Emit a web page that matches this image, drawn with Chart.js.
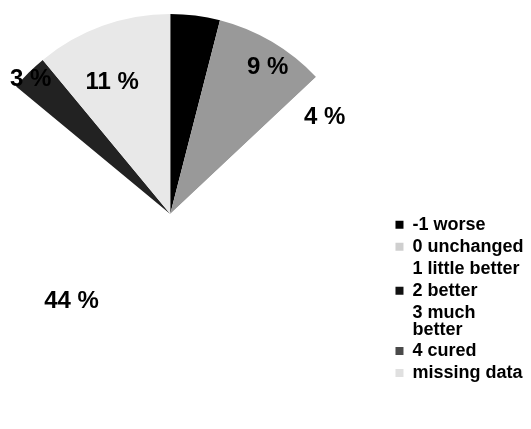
<!DOCTYPE html>
<html><head><meta charset="utf-8">
<script src="https://cdn.jsdelivr.net/npm/chart.js@4.4.0/dist/chart.umd.min.js"></script>
<style>
html,body{margin:0;padding:0;background:#fff;overflow:hidden;width:531px;height:429px;}
#c{position:absolute;left:-51px;top:0;}
</style></head><body>
<canvas id="c" width="588" height="429"></canvas>
<script>
// ---- data ----
const categories = ['-1 worse', '0 unchanged', '1 little better', '2 better', ['3 much', 'better'], '4 cured', 'missing data'];
const percentages = [4, 9, 4, 25, 44, 3, 11];

// ---- styles ----
const sliceColors    = ['#000000', '#999999', '#ffffff', '#ffffff', '#ffffff', '#222222', '#e8e8e8'];
const legendSwatches = ['#000000', '#cfcfcf', '#ffffff', '#111111', '#ffffff', '#4a4a4a', '#e0e0e0'];
const labelPlacement = [null, {r: 0.88, da: 3}, {r: 0.91, da: 4}, null, {r: 0.66, da: -2}, {r: 0.97, da: -1}, {r: 0.72, da: -4}];
const labelColors = [null, '#000', '#000', null, '#000', '#000', '#000'];

const total = percentages.reduce((a, b) => a + b, 0);

const sliceLabels = {
  id: 'sliceLabels',
  afterDatasetsDraw(chart) {
    const ctx = chart.ctx;
    const meta = chart.getDatasetMeta(0);
    ctx.save();
    ctx.font = 'bold 24px "Liberation Sans", Arial, sans-serif';
    ctx.textAlign = 'center';
    ctx.textBaseline = 'middle';
    meta.data.forEach((arc, i) => {
      const p = labelPlacement[i];
      if (!p) return;
      const {x, y, startAngle, endAngle, outerRadius} = arc.getProps(['x', 'y', 'startAngle', 'endAngle', 'outerRadius'], true);
      const a = (startAngle + endAngle) / 2 + p.da * Math.PI / 180;
      const r = outerRadius * p.r;
      ctx.fillStyle = labelColors[i];
      ctx.fillText(Math.round(percentages[i] / total * 100) + ' %', x + r * Math.cos(a), y + r * Math.sin(a));
    });
    ctx.restore();
  }
};

new Chart(document.getElementById('c'), {
  type: 'pie',
  data: {
    labels: categories,
    datasets: [{
      data: percentages,
      backgroundColor: sliceColors,
      borderWidth: 0,
      clip: false
    }]
  },
  options: {
    responsive: false,
    devicePixelRatio: 1,
    animation: false,
    radius: 200,
    layout: {padding: {left: 0, right: 3.5, top: 42, bottom: 43}},
    plugins: {
      tooltip: {enabled: false},
      legend: {
        position: 'right',
        align: 'end',
        labels: {
          boxWidth: 8,
          boxHeight: 8,
          padding: 4,
          color: '#000',
          font: {family: '"Liberation Sans", Arial, sans-serif', size: 18, weight: 'bold', lineHeight: 0.95},
          generateLabels(chart) {
            const items = Chart.overrides.pie.plugins.legend.labels.generateLabels(chart);
            items.forEach((it, i) => { it.fillStyle = legendSwatches[i]; it.strokeStyle = legendSwatches[i]; it.lineWidth = 0; });
            return items;
          }
        }
      }
    }
  },
  plugins: [sliceLabels]
});
</script>
</body></html>
